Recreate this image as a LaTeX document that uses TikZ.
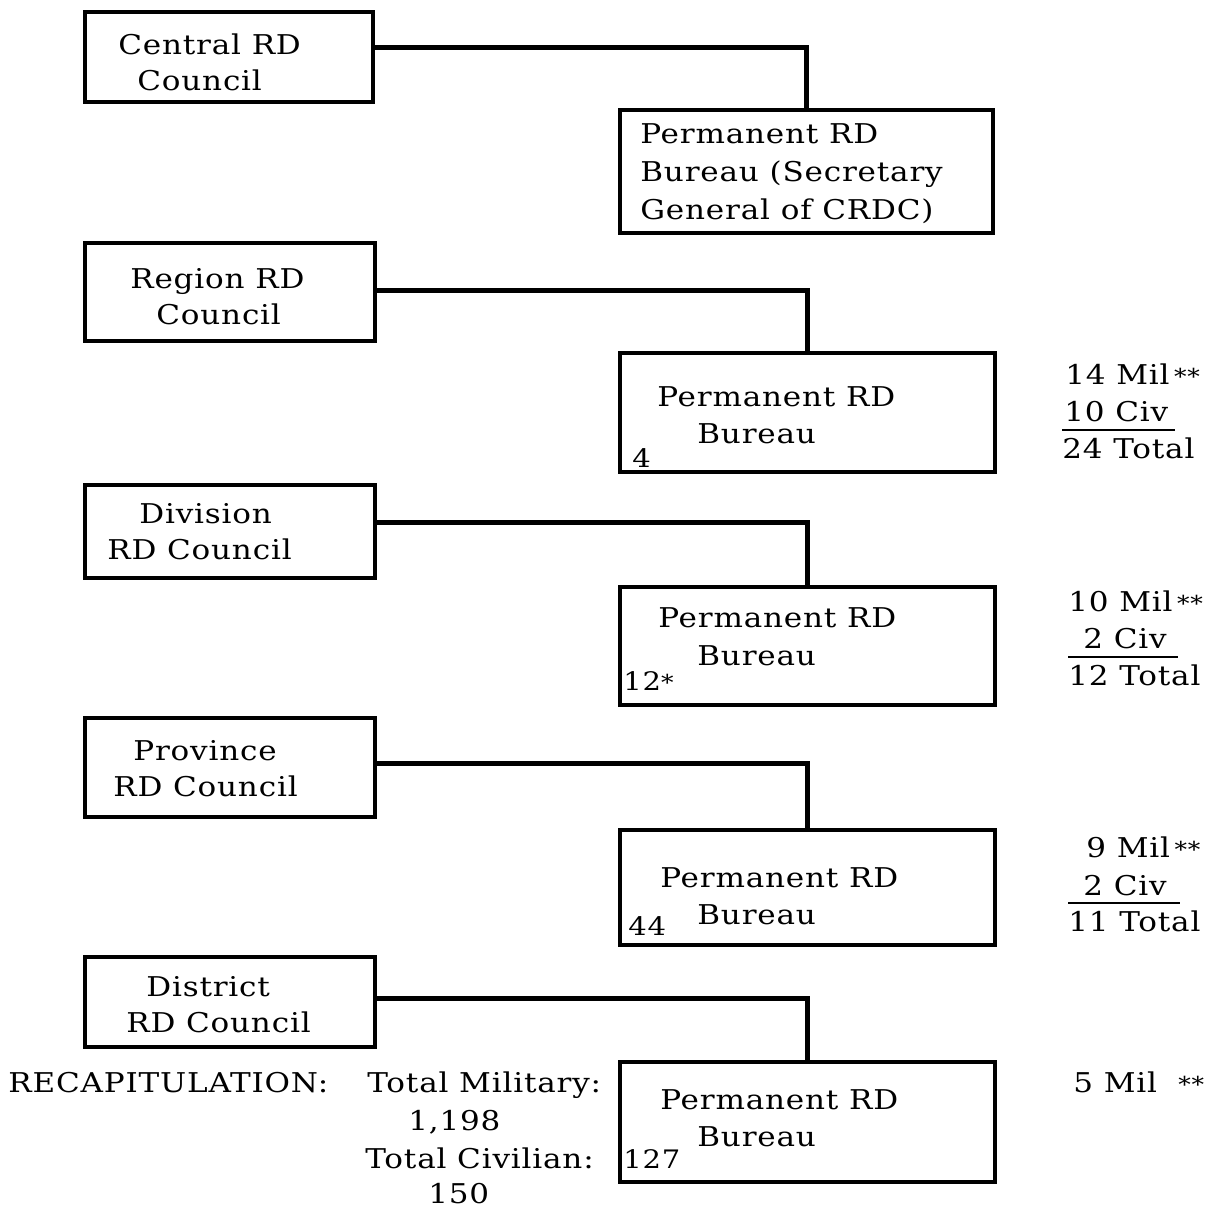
\documentclass[tikz,border=0pt]{standalone}
\usepackage{fontspec}
\setmainfont[FakeStretch=1.14,LetterSpace=3]{DejaVu Serif}
\newcommand{\stars}[1]{{\fontsize{12.5}{13}\selectfont #1}}
\begin{document}
\begin{tikzpicture}[x=0.02cm,y=-0.02cm,
  box/.style={draw, line width=2.6pt, inner sep=0pt},
  conn/.style={line width=2.8pt},
  txt/.style={inner sep=0pt, anchor=base west, font=\fontsize{15.5}{18}\selectfont},
  num/.style={inner sep=0pt, anchor=base west, font=\fontsize{14.5}{17}\selectfont}]
\useasboundingbox (0,0) rectangle (1218,1207);
\newcommand{\mkbox}[5]{\node[box, minimum width={(#4-#2)*0.02cm}, minimum height={(#5-#3)*0.02cm}] (#1) at ({(#2+#4)/2},{(#3+#5)/2}) {};}
% boxes
\mkbox{c1}{85}{12}{373}{102}
\mkbox{b1}{620}{110}{993}{233}
\mkbox{c2}{85}{243}{375}{341}
\mkbox{b2}{620}{353}{995}{472}
\mkbox{c3}{85}{485}{375}{578}
\mkbox{b3}{620}{587}{995}{705}
\mkbox{c4}{85}{718}{375}{817}
\mkbox{b4}{620}{830}{995}{945}
\mkbox{c5}{85}{957}{375}{1047}
\mkbox{b5}{620}{1062}{995}{1182}
% connectors
\draw[conn] ([yshift=5.5pt]c1.east) -| (b1.north);
\draw[conn] ([yshift=1pt]c2.east) -| (b2.north);
\draw[conn] ([yshift=5pt]c3.east) -| (b3.north);
\draw[conn] ([yshift=2.5pt]c4.east) -| (b4.north);
\draw[conn] ([yshift=2pt]c5.east) -| (b5.north);
% council texts
\node[txt] (t1a) at (118,54) {Central RD};
\node[txt] (t1b) at (137,90) {Council};
\node[txt] (t2a) at (130,288) {Region RD};
\node[txt] (t2b) at (156,324) {Council};
\node[txt] (t3a) at (139,523) {Division};
\node[txt] (t3b) at (107,559) {RD Council};
\node[txt] (t4a) at (133,760) {Province};
\node[txt] (t4b) at (113,796) {RD Council};
\node[txt] (t5a) at (146,996) {District};
\node[txt] (t5b) at (126,1032) {RD Council};
% bureau texts
\node[txt] (u1a) at (640,143) {Permanent RD};
\node[txt] (u1b) at (640,181) {Bureau (Secretary};
\node[txt] (u1c) at (640,219) {General of CRDC)};
\node[txt] (u2a) at (657,406) {Permanent RD};
\node[txt] (u2b) at (697,443) {Bureau};
\node[num] (n2) at (632,467) {4};
\node[txt] (u3a) at (658,627) {Permanent RD};
\node[txt] (u3b) at (697,665) {Bureau};
\node[num] (n3) at (623,690) {12\stars{*}};
\node[txt] (u4a) at (660,887) {Permanent RD};
\node[txt] (u4b) at (697,924) {Bureau};
\node[num] (n4) at (628,935) {44};
\node[txt] (u5a) at (660,1109) {Permanent RD};
\node[txt] (u5b) at (697,1146) {Bureau};
\node[num] (n5) at (623,1168) {127};
% right tallies
\node[txt] (r2a) at (1065,384) {14 Mil\,\stars{**}};
\node[txt] (r2b) at (1064,421) {10 Civ};
\node[txt] (r2c) at (1062,458) {24 Total};
\draw[line width=1.2pt] (1062,430) -- (1175,430);
\node[txt] (r3a) at (1068,611) {10 Mil\,\stars{**}};
\node[txt] (r3b) at (1083,648) {2 Civ};
\node[txt] (r3c) at (1068,685) {12 Total};
\draw[line width=1.2pt] (1068,657) -- (1178,657);
\node[txt] (r4a) at (1086,857) {9 Mil\,\stars{**}};
\node[txt] (r4b) at (1083,895) {2 Civ};
\node[txt] (r4c) at (1068,931) {11 Total};
\draw[line width=1.2pt] (1068,903) -- (1180,903);
\node[txt] (r5a) at (1073,1092) {5 Mil\ \ \stars{**}};
% recapitulation
\node[txt] (rc) at (8,1092) {RECAPITULATION:};
\node[txt] (rm) at (367,1092) {Total Military:};
\node[txt] (rmv) at (408,1130) {1,198};
\node[txt] (rcv) at (365,1168) {Total Civilian:};
\node[txt, text depth=0pt] (rcn) at (428,1203) {150};
\end{tikzpicture}
\end{document}
